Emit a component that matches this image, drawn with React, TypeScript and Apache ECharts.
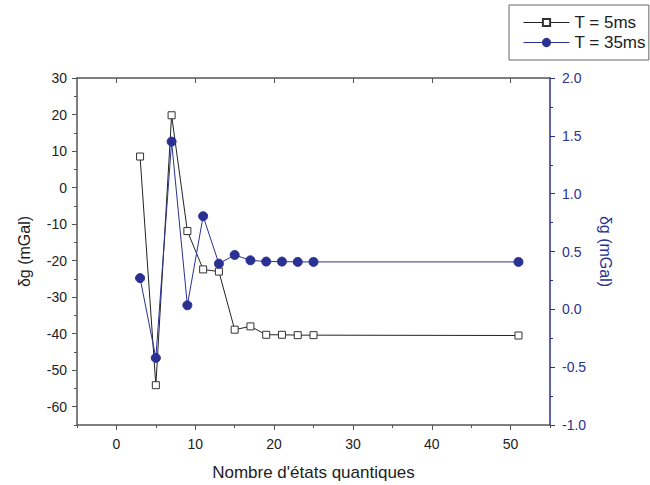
import React, { useEffect, useRef } from "react";
import * as echarts from "echarts";

const seriesNames = ["T = 5ms", "T = 35ms"];
const nStates = [3, 5, 7, 9, 11, 13, 15, 17, 19, 21, 23, 25, 51];
const dg5ms = [8.5, -54.1, 19.8, -11.9, -22.4, -23.0, -38.9, -38.0, -40.3, -40.3, -40.4, -40.4, -40.5];
const dg35ms = [0.27, -0.42, 1.45, 0.035, 0.805, 0.395, 0.47, 0.424, 0.413, 0.413, 0.41, 0.41, 0.41];
const xMajor = [0, 10, 20, 30, 40, 50];
const xMinor = [-5, 5, 15, 25, 35, 45, 55];
const yLeftMajor = [-60, -50, -40, -30, -20, -10, 0, 10, 20, 30];
const yLeftMinor = [-65, -55, -45, -35, -25, -15, -5, 5, 15, 25];

const BLUE = "#2b3192";
const AXIS = "#555555";
const TXT = "#222222";
const FONT = "Liberation Sans, Arial, sans-serif";

export default function App() {
  const ref = useRef<HTMLDivElement>(null);
  useEffect(() => {
    if (!ref.current) return;
    const chart = echarts.init(ref.current, null, { renderer: "svg" });
    const tickLabel = { color: TXT, fontSize: 14, fontFamily: FONT };
    chart.setOption({
      animation: false,
      backgroundColor: "#ffffff",
      textStyle: { fontFamily: FONT },
      grid: { left: 77, right: 100, top: 78, bottom: 60, containLabel: false, outerBoundsMode: "none" },
      legend: {
        orient: "vertical",
        left: 509,
        top: 5,
        padding: [9, 3, 9, 14],
        itemGap: 3,
        itemWidth: 46,
        itemHeight: 9,
        borderColor: "#666666",
        borderWidth: 1,
        lineStyle: { width: 1 },
        textStyle: { color: TXT, fontSize: 17, fontFamily: FONT },
        data: seriesNames,
      },
      xAxis: [
        {
          type: "value",
          position: "bottom",
          min: -5,
          max: 55,
          name: "Nombre d'états quantiques",
          nameLocation: "middle",
          nameGap: 39,
          nameTextStyle: { color: TXT, fontSize: 17, fontFamily: FONT },
          axisLine: { show: true, onZero: false, lineStyle: { color: AXIS, width: 1.5 } },
          axisTick: { show: true, inside: false, length: 5, customValues: xMajor, lineStyle: { color: AXIS } },
          axisLabel: { ...tickLabel, margin: 12, customValues: xMajor },
          splitLine: { show: false },
        },
        {
          type: "value",
          position: "bottom",
          min: -5,
          max: 55,
          axisLine: { show: false, onZero: false },
          axisTick: { show: true, inside: false, length: 3, customValues: xMinor, lineStyle: { color: AXIS } },
          axisLabel: { show: false },
          splitLine: { show: false },
        },
        {
          type: "value",
          position: "top",
          min: -5,
          max: 55,
          axisLine: { show: true, onZero: false, lineStyle: { color: AXIS, width: 1.5 } },
          axisTick: { show: true, inside: true, length: 5, customValues: xMajor, lineStyle: { color: AXIS } },
          axisLabel: { show: false },
          splitLine: { show: false },
        },
      ],
      yAxis: [
        {
          type: "value",
          position: "left",
          min: -65,
          max: 30,
          name: "δg (mGal)",
          nameLocation: "middle",
          nameGap: 45,
          nameRotate: 90,
          nameTextStyle: { color: TXT, fontSize: 16, fontFamily: FONT },
          axisLine: { show: true, onZero: false, lineStyle: { color: AXIS, width: 1.5 } },
          axisTick: { show: true, inside: false, length: 5, customValues: yLeftMajor, lineStyle: { color: AXIS } },
          axisLabel: { ...tickLabel, margin: 10, customValues: yLeftMajor },
          splitLine: { show: false },
        },
        {
          type: "value",
          position: "right",
          min: -1,
          max: 2,
          interval: 0.5,
          name: "δg (mGal)",
          nameLocation: "middle",
          nameGap: 45,
          nameRotate: -90,
          nameTextStyle: { color: BLUE, fontSize: 16, fontFamily: FONT },
          axisLine: { show: true, onZero: false, lineStyle: { color: BLUE, width: 1.5 } },
          axisTick: { show: true, inside: false, length: 5, lineStyle: { color: BLUE } },
          minorTick: { show: true, splitNumber: 2, length: 3, lineStyle: { color: BLUE } },
          axisLabel: { color: BLUE, fontSize: 14, fontFamily: FONT, margin: 12, formatter: (v: number) => v.toFixed(1) },
          splitLine: { show: false },
          minorSplitLine: { show: false },
        },
        {
          type: "value",
          position: "left",
          min: -65,
          max: 30,
          axisLine: { show: false, onZero: false },
          axisTick: { show: true, inside: false, length: 3, customValues: yLeftMinor, lineStyle: { color: AXIS } },
          axisLabel: { show: false },
          splitLine: { show: false },
        },
      ],
      series: [
        {
          name: seriesNames[0],
          type: "line",
          xAxisIndex: 0,
          yAxisIndex: 0,
          data: nStates.map((x, i) => [x, dg5ms[i]]),
          symbol: "rect",
          symbolSize: 7,
          showAllSymbol: true,
          lineStyle: { color: "#222222", width: 1 },
          itemStyle: { color: "#ffffff", borderColor: "#333333", borderWidth: 1 },
          z: 3,
        },
        {
          name: seriesNames[1],
          type: "line",
          xAxisIndex: 0,
          yAxisIndex: 1,
          data: nStates.map((x, i) => [x, dg35ms[i]]),
          symbol: "circle",
          symbolSize: 9,
          showAllSymbol: true,
          lineStyle: { color: BLUE, width: 1 },
          itemStyle: { color: BLUE, borderColor: BLUE, borderWidth: 1 },
          z: 4,
        },
      ],
    });
    return () => chart.dispose();
  }, []);
  return <div ref={ref} style={{ position: "fixed", left: 0, top: 0, width: 650, height: 485 }} />;
}
